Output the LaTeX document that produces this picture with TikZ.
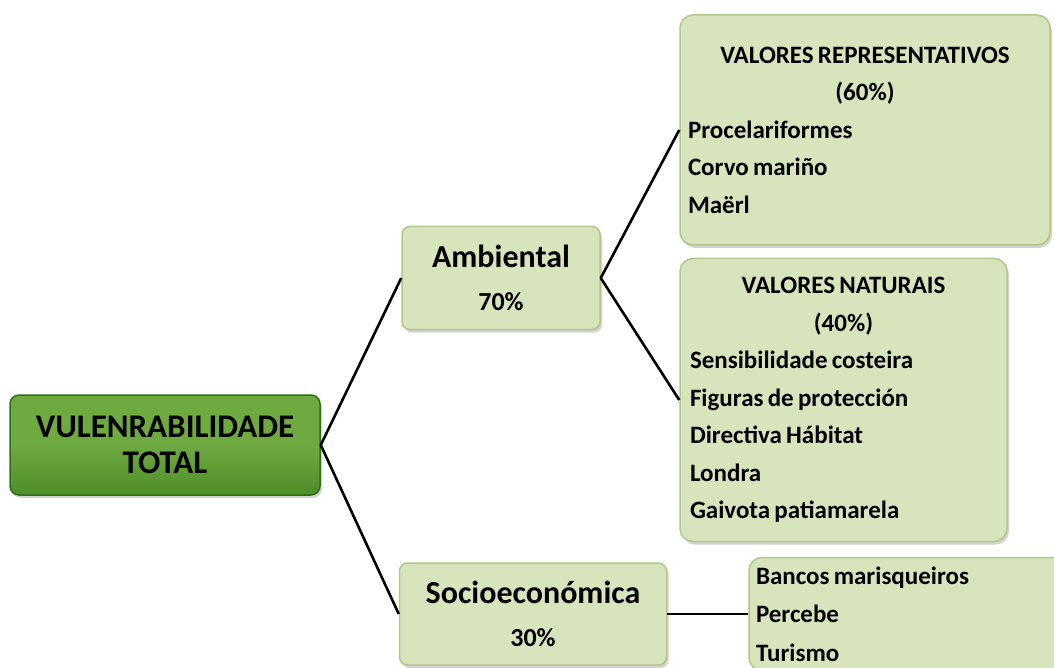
\documentclass[tikz,border=0pt]{standalone}
\usepackage{fontspec}
\setmainfont{Carlito}
\usepackage{xcolor}
\usetikzlibrary{positioning,shadows}
\definecolor{leaf}{HTML}{D8E4BC}
\definecolor{leafedge}{HTML}{B2C88A}
\definecolor{rootdark}{HTML}{2F6E16}
\definecolor{rootmid}{HTML}{6EAA40}
\definecolor{rootlow}{HTML}{4E8E28}
\newcommand{\tightsp}{\spaceskip=0.17em\relax}

\begin{document}
\begin{tikzpicture}[x=1pt, y=-1pt, line width=2.6pt,
  box/.style={draw=leafedge, line width=1.5pt, fill=leaf, rounded corners=13pt, inner ysep=0pt,
    drop shadow={opacity=0.35, shadow xshift=2pt, shadow yshift=-3pt},
    font=\bfseries\fontsize{25}{37.5}\selectfont},
  level/.style={box, align=center, rounded corners=8pt, font=\bfseries\fontsize{32}{43}\selectfont},
  list/.style={box, align=left, inner xsep=8pt}]
\useasboundingbox (0,0) rectangle (1054,668);
\clip (0,0) rectangle (1054,668);
% tree of weights
\node[level, draw=rootdark, top color=rootmid, bottom color=rootlow, middle color=rootmid,
  minimum width=310pt, minimum height=100pt, rounded corners=9pt,
  font=\bfseries\fontsize{33}{36}\selectfont] (vt) at (165,445) {VULENRABILIDADE\\TOTAL};
\node[level, minimum width=198pt, minimum height=103pt] (amb) at (501,278)
  {Ambiental\\{\fontsize{26}{43}\selectfont 70\%}};
\node[level, minimum width=267pt, minimum height=102pt] (soc) at (533,614)
  {Socioeconómica\\{\fontsize{26}{43}\selectfont 30\%}};
\node[list, text width=354pt, minimum height=230pt] (rep) at (865,130)
  {\tightsp{\centering VALORES REPRESENTATIVOS\\(60\%)\par}Procelariformes\\Corvo mariño\\Maërl};
\node[list, inner xsep=10pt, text width=307pt, minimum height=283pt] (nat) at (843.5,400)
  {\tightsp{\centering VALORES NATURAIS\\(40\%)\par}Sensibilidade costeira\\Figuras de protección\\Directiva Hábitat\\Londra\\Gaivota patiamarela};
\node[list, inner xsep=7pt, text width=318pt, minimum height=113pt, right=81pt of soc,
  font=\bfseries\fontsize{25}{38.5}\selectfont] (soe) {\tightsp Bancos marisqueiros\\Percebe\\Turismo};
\draw (vt.east) -- (amb.west);
\draw (vt.east) -- (soc.west);
\draw (amb.east) -- (rep.west);
\draw (amb.east) -- (nat.west);
\draw (soc.east) -- (soe.west);
\end{tikzpicture}
\end{document}
